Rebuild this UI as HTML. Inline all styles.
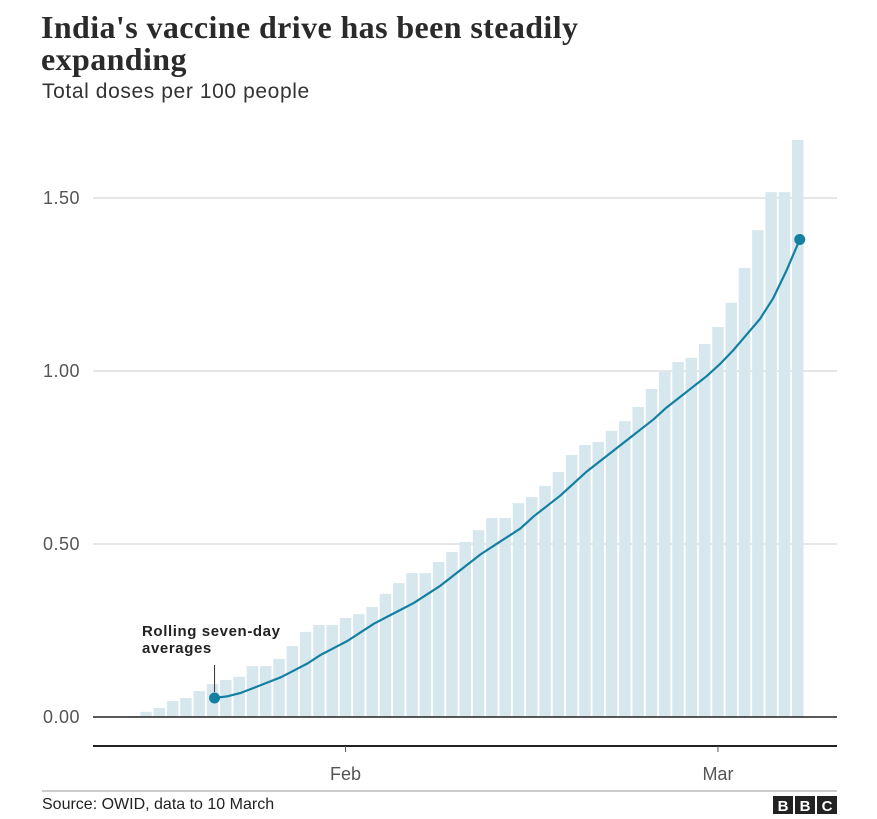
<!DOCTYPE html>
<html><head><meta charset="utf-8"><style>
body{margin:0;background:#fff;width:877px;height:819px;overflow:hidden;font-family:"Liberation Sans",sans-serif}
#t{position:absolute;left:41px;top:11px;font-family:"Liberation Serif",serif;font-size:32px;font-weight:bold;line-height:32px;color:#2a2a2a;margin:0;letter-spacing:0.4px}
#s{position:absolute;left:42px;top:80px;font-size:21px;color:#333;letter-spacing:0.6px}
</style></head><body>
<h1 id="t">India's vaccine drive has been steadily<br>expanding</h1>
<div id="s">Total doses per 100 people</div>
<svg id="c" width="877" height="819" style="position:absolute;left:0;top:0"></svg>
<script>
const barValues=[0.003,0.015,0.026,0.046,0.055,0.075,0.095,0.107,0.116,0.147,0.147,0.168,0.205,0.246,0.266,0.266,0.286,0.297,0.318,0.356,0.387,0.416,0.416,0.448,0.477,0.506,0.54,0.575,0.575,0.618,0.636,0.668,0.708,0.757,0.786,0.795,0.827,0.855,0.896,0.948,0.997,1.026,1.038,1.078,1.127,1.197,1.298,1.407,1.517,1.517,1.668];
const lineStart=6;
const lineValues=[0.055,0.06,0.07,0.085,0.1,0.115,0.135,0.155,0.18,0.2,0.22,0.245,0.27,0.29,0.31,0.33,0.355,0.38,0.41,0.44,0.47,0.495,0.52,0.545,0.58,0.61,0.64,0.675,0.71,0.74,0.77,0.8,0.83,0.86,0.895,0.925,0.955,0.985,1.02,1.06,1.105,1.15,1.21,1.29,1.38];
const yTicks=[0,0.5,1,1.5];
const yTickLabels=["0.00","0.50","1.00","1.50"];
const xTickIdx=[16,44];
const xTickLabels=["Feb","Mar"];
const NS="http://www.w3.org/2000/svg",svg=document.getElementById('c');
const y=v=>717-v*346, xb=i=>127+i*13.3, bw=11.5;
function mk(t,a,p){const e=document.createElementNS(NS,t);for(const k in a)e.setAttribute(k,a[k]);(p||svg).appendChild(e);return e;}
yTicks.forEach((v,i)=>{
 const g=mk('line',{x1:93,x2:837,y1:y(v),y2:y(v),stroke:'#ccc','stroke-width':1});
 
 
 const t=mk('text',{x:80,y:y(v)+6,'text-anchor':'end','font-size':18,fill:'#555','letter-spacing':0.5});t.textContent=yTickLabels[i];
 
 
});
barValues.forEach((v,i)=>{
 const r=mk('rect',{x:xb(i),y:y(v),width:bw,height:v*346,fill:'#d7e7ee'});
 
 
});
const bl=mk('line',{x1:93,x2:837,y1:717,y2:717,stroke:'#222','stroke-width':1.5});


const ax=mk('line',{x1:93,x2:837,y1:746,y2:746,stroke:'#222','stroke-width':2});


xTickIdx.forEach((idx,i)=>{
 const cx=xb(idx)+bw/2;
 const tk=mk('line',{x1:cx,x2:cx,y1:746,y2:752,stroke:'#555'});
 
 
 const t=mk('text',{x:cx,y:780,'text-anchor':'middle','font-size':18,fill:'#555'});t.textContent=xTickLabels[i];
 
 
});
const pts=lineValues.map((v,i)=>[xb(i+lineStart)+bw/2+2,y(v)]);
const pl=mk('polyline',{points:pts.map(p=>p.join(',')).join(' '),fill:'none',stroke:'#1380a1','stroke-width':2.2,'stroke-linejoin':'round'});


[pts[0],pts[pts.length-1]].forEach(p=>{
 const c=mk('circle',{cx:p[0],cy:p[1],r:5.5,fill:'#1380a1'});
 
 
});
const al=mk('line',{x1:pts[0][0],x2:pts[0][0],y1:665,y2:692,stroke:'#333'});


const an=mk('text',{x:142,y:636,'font-size':15,'font-weight':'bold',fill:'#222','letter-spacing':0.6});


an.innerHTML='<tspan x="142">Rolling seven-day</tspan><tspan x="142" dy="17">averages</tspan>';
const sep=mk('line',{x1:42,x2:837,y1:791,y2:791,stroke:'#999'});


const src=mk('text',{x:42,y:809,'font-size':16,fill:'#222'});src.textContent='Source: OWID, data to 10 March';


['B','B','C'].forEach((L,i)=>{
 const r=mk('rect',{x:773+i*22,y:796,width:20,height:18,fill:'#222'});
 
 
 const t=mk('text',{x:783+i*22,y:811,'text-anchor':'middle','font-size':15,'font-weight':'bold',fill:'#fff'});t.textContent=L;
 
 
});
</script>
</body></html>
